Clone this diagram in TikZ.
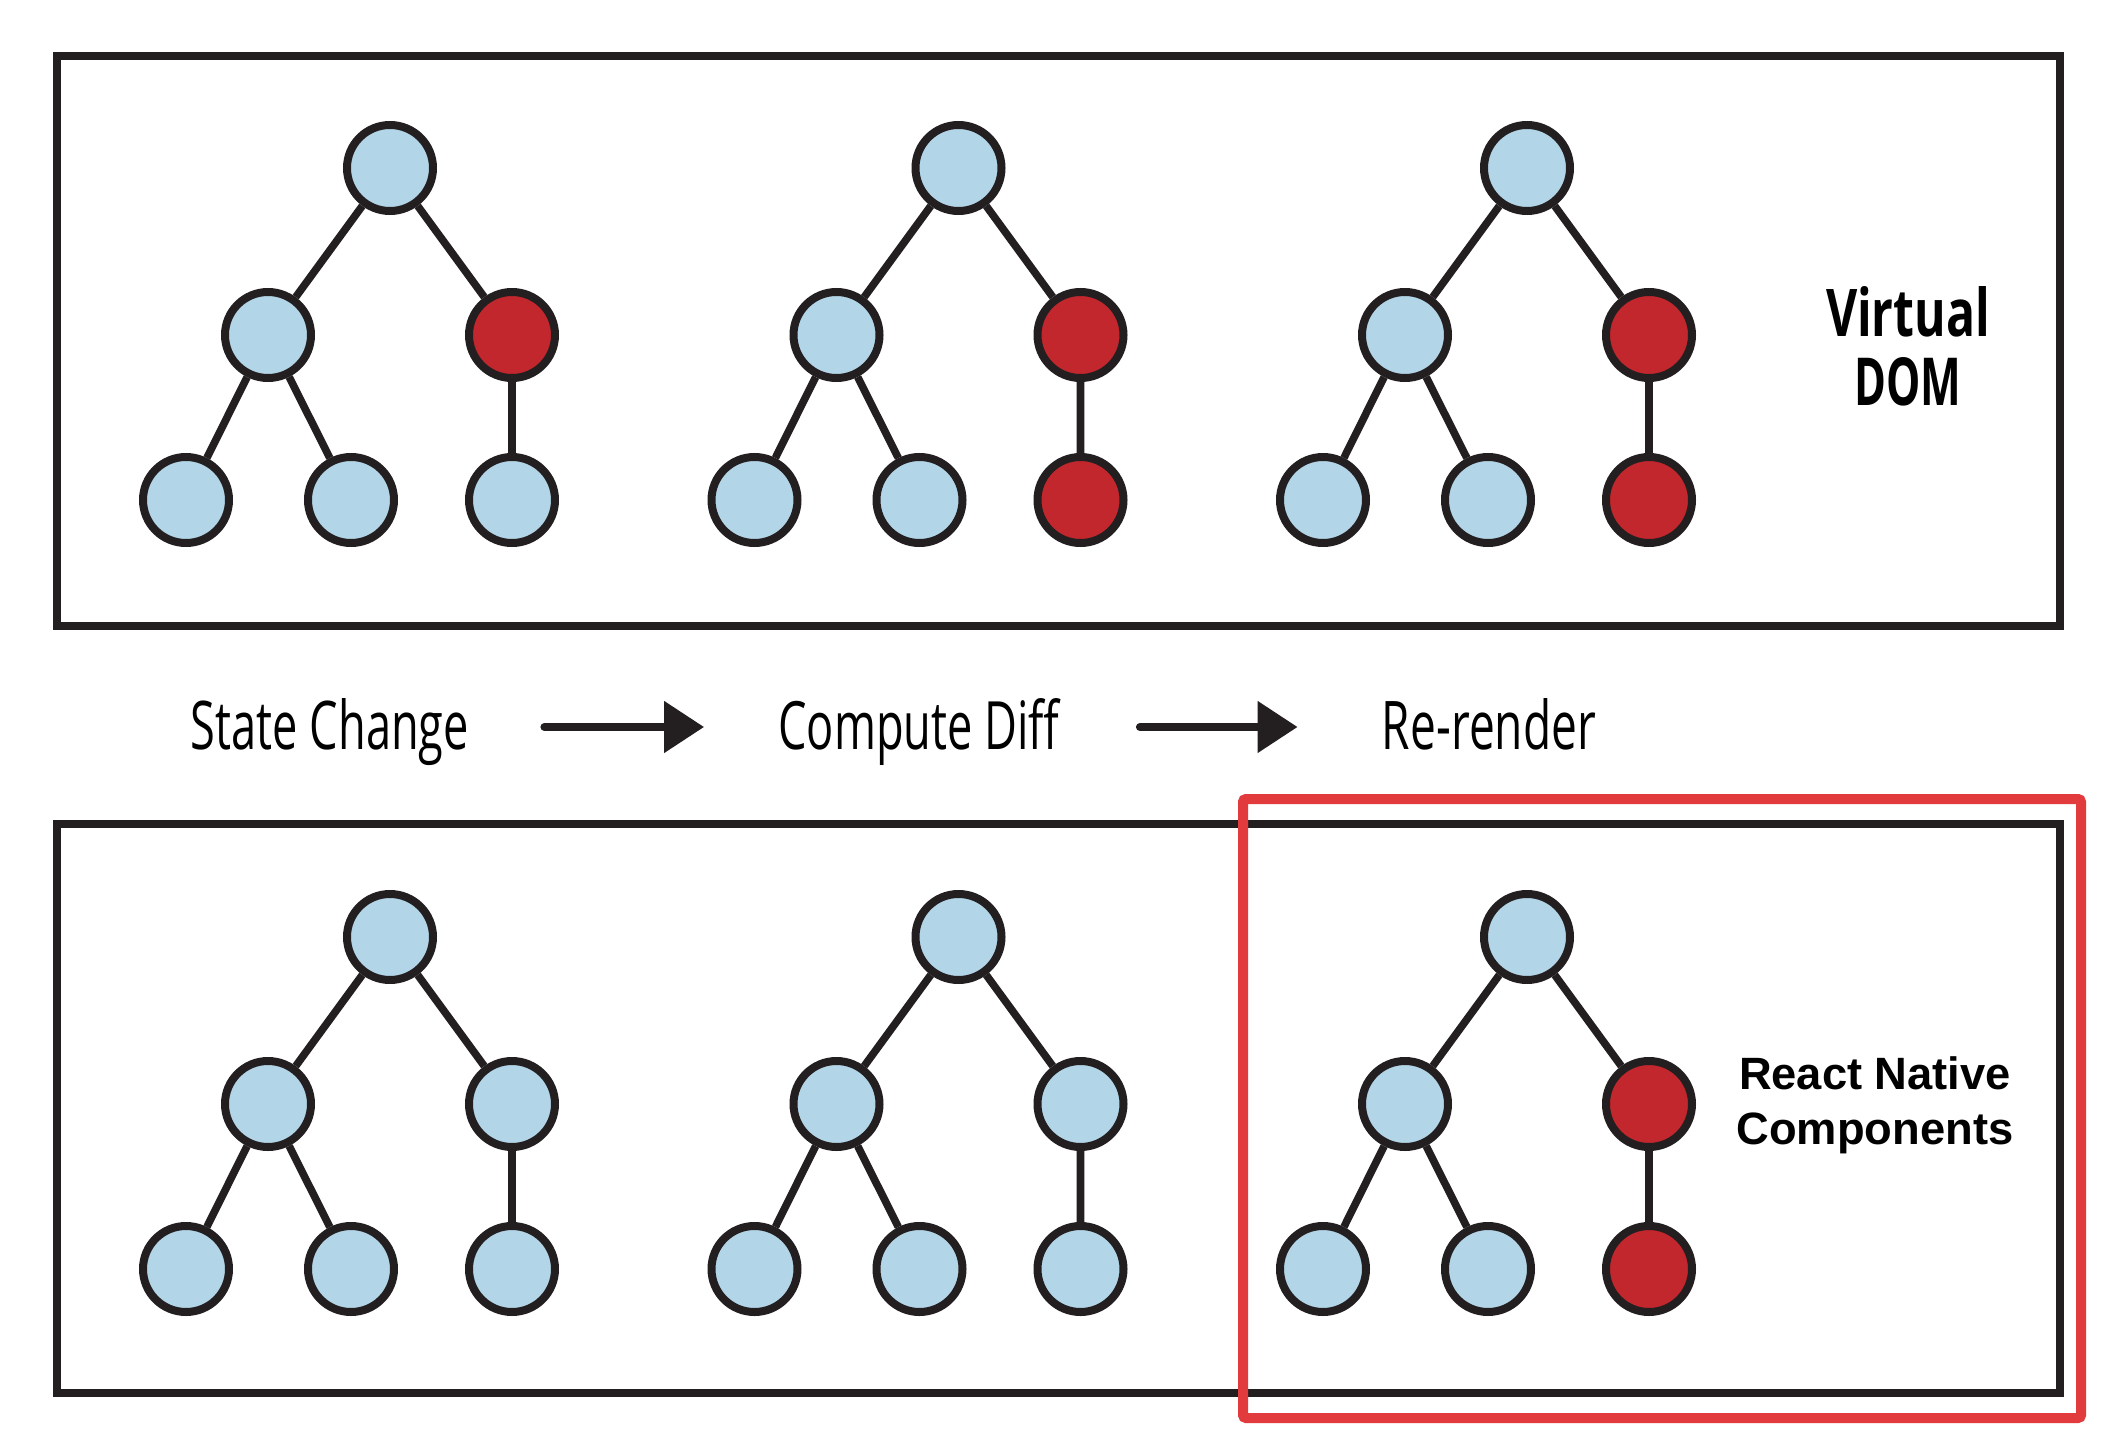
\documentclass[tikz,border=0pt]{standalone}
\usepackage{fontspec}
\usepackage{graphicx}
\setmainfont{Open Sans}
\newfontfamily\arialb{Liberation Sans}
\usetikzlibrary{arrows.meta}
\definecolor{nodeblue}{HTML}{B3D5E8}
\definecolor{nodered}{HTML}{C1272D}
\definecolor{ink}{HTML}{231F20}
\definecolor{hilite}{HTML}{E23B3E}
\newcommand\dtree[5]{%
  \begin{scope}[shift={(#2,#3)}]
    \node[nd] (#1r) at (0,0) {};
    \node[nd] (#1a) at (-122,167) {};
    \node[nd,fill=#4] (#1b) at (122,167) {};
    \node[nd] (#1c) at (-204,332) {};
    \node[nd] (#1d) at (-39,332) {};
    \node[nd,fill=#5] (#1e) at (122,332) {};
    \draw[edge] (#1r) -- (#1a) (#1r) -- (#1b) (#1a) -- (#1c) (#1a) -- (#1d) (#1b) -- (#1e);
  \end{scope}}
\begin{document}
\begin{tikzpicture}[x=0.5pt,y=-0.5pt,
  nd/.style={circle,draw=ink,line width=4pt,minimum size=43pt,inner sep=0pt,fill=nodeblue},
  edge/.style={draw=ink,line width=3.8pt},
  panel/.style={draw=ink,line width=4pt},
  hl/.style={draw=hilite,line width=5pt,rounded corners=1.5pt},
  stagelabel/.style={inner sep=0pt,text height=25.5pt,text depth=3.5pt,anchor=base},
  flow/.style={draw=ink,line width=4pt,line cap=round,-{Triangle[length=20pt,width=25pt]}}
]
\useasboundingbox (0,0) rectangle (2117,1450);
\fill[white] (0,0) rectangle (2117,1450);
% panels
\draw[panel] (57,56) rectangle (2060,626);
\draw[panel] (57,824) rectangle (2060,1393);
% top trees (Virtual DOM)
\dtree{ta}{390}{168}{nodered}{nodeblue}
\dtree{tb}{958.5}{168}{nodered}{nodered}
\dtree{tc}{1527}{168}{nodered}{nodered}
% bottom trees (React Native components)
\dtree{ba}{390}{937}{nodeblue}{nodeblue}
\dtree{bb}{958.5}{937}{nodeblue}{nodeblue}
\dtree{bc}{1527}{937}{nodered}{nodered}
% panel labels
\node[anchor=north,inner sep=0pt,align=center,font={\bfseries\fontsize{24pt}{34.5pt}\selectfont}] (vdom) at (1908,286)
  {\resizebox{82pt}{25pt}{Virtual}\\\resizebox{53.5pt}{24pt}{DOM}};
\node[anchor=north,inner sep=0pt,align=center,font={\arialb\bfseries\fontsize{22.65pt}{27.5pt}\selectfont}] (rnc) at (1875,1056)
  {React Native\\Components};
% stage labels
\node[stagelabel] (sc) at (330,749) {\resizebox{139pt}{25.5pt}{State Change}};
\node[stagelabel] (cd) at (919,749) {\resizebox{140.5pt}{25.5pt}{Compute Diff}};
\node[stagelabel] (rr) at (1489,749) {\resizebox{107pt}{25.5pt}{Re-render}};
\draw[flow,shorten <=37.5pt,shorten >=37pt] (sc.east) -- (cd.west);
\draw[flow,shorten <=40pt,shorten >=42pt] (cd.east) -- (rr.west);
% highlight
\draw[hl] (1243,799) rectangle (2081,1418);
\end{tikzpicture}
\end{document}
